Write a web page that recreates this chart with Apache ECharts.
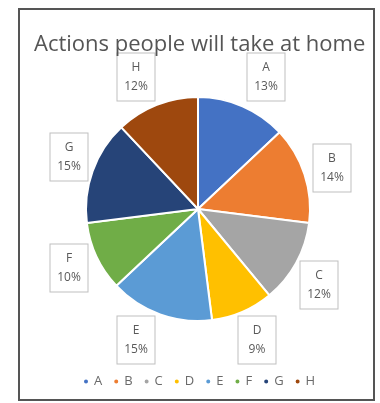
<!DOCTYPE html>
<html>
<head>
<meta charset="utf-8">
<script src="https://cdn.jsdelivr.net/npm/echarts@6/dist/echarts.min.js"></script>
<style>
  html, body { margin: 0; padding: 0; background: #ffffff; }
  #chart { width: 380px; height: 403px; }
</style>
</head>
<body>
<div id="chart"></div>
<script>
// Share of respondents for each home action
const categories = ['A', 'B', 'C', 'D', 'E', 'F', 'G', 'H'];
const shares = [13, 14, 12, 9, 15, 10, 15, 12];
const sliceColors = ['#4472C4', '#ED7D31', '#A5A5A5', '#FFC000', '#5B9BD5', '#70AD47', '#264478', '#9E480E'];

// Callout box centres (px), one per slice
const calloutCentres = [
  [266, 77], [332, 168], [319, 285], [257, 340],
  [136, 340], [69, 268], [69, 157], [136, 77]
];

const chart = echarts.init(document.getElementById('chart'), null, { renderer: 'canvas' });

chart.setOption({
  animation: false,
  backgroundColor: '#ffffff',
  color: sliceColors,
  title: {
    text: 'Actions people will take at home',
    left: 29,
    top: 29,
    textStyle: {
      fontFamily: 'Open Sans',
      fontSize: 22,
      fontWeight: 'normal',
      color: '#555555'
    }
  },
  graphic: [{
    type: 'rect',
    shape: { x: 19, y: 9, width: 355, height: 391 },
    style: { fill: 'none', stroke: '#555555', lineWidth: 2 },
    silent: true
  }],
  legend: {
    top: 370,
    left: 77,
    icon: 'circle',
    itemWidth: 6,
    itemHeight: 6,
    itemGap: 10,
    textStyle: { fontFamily: 'Open Sans', fontSize: 13, color: '#6a6a6a' },
    data: categories
  },
  series: [{
    type: 'pie',
    center: [198, 209],
    radius: 112,
    startAngle: 90,
    clockwise: true,
    itemStyle: { borderColor: '#ffffff', borderWidth: 2 },
    label: {
      show: true,
      position: 'outside',
      formatter: '{b}\n{d}%',
      fontFamily: 'Open Sans',
      fontSize: 12,
      lineHeight: 19,
      color: '#595959',
      align: 'center',
      width: 25,
      overflow: 'none',
      backgroundColor: '#ffffff',
      borderColor: '#BFBFBF',
      borderWidth: 1,
      padding: [5, 6, 4, 6]
    },
    labelLine: { show: false },
    labelLayout: function (params) {
      const c = calloutCentres[params.dataIndex];
      return {
        x: c[0],
        y: c[1],
        align: 'center',
        verticalAlign: 'middle'
      };
    },
    data: categories.map((name, i) => ({ name: name, value: shares[i] }))
  }]
});
</script>
</body>
</html>
